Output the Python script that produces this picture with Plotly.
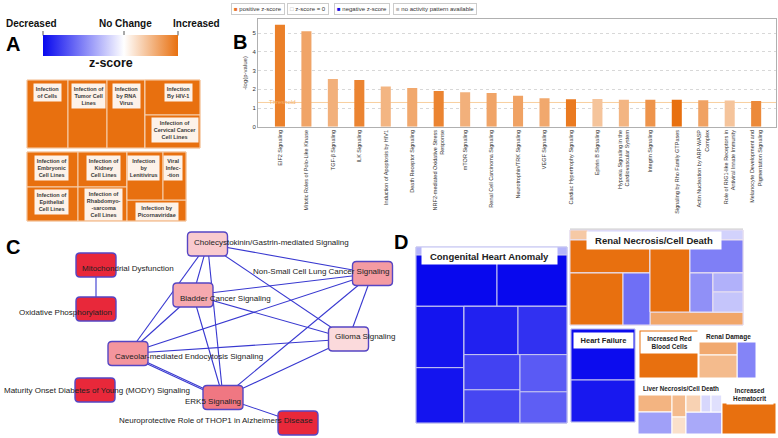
import plotly.graph_objects as go
from plotly.colors import sample_colorscale

W, H = 778, 438
def px(x): return x / W
def py(y): return 1 - y / H
FONT = "Arial, Liberation Sans, sans-serif"

# ---------------- DATA ----------------
# z-score colour range shared by panels A, B, D
z_min, z_max = -3, 2

# Panel B: canonical pathways
pathways = ["EIF2 Signaling", "Mitotic Roles of Polo-Like Kinase", "TGF-β Signaling", "ILK Signaling",
            "Induction of Apoptosis by HIV1", "Death Receptor Signaling",
            "NRF2-mediated Oxidative Stress<br>Response", "mTOR Signaling",
            "Renal Cell Carcinoma Signaling", "Neurotrophin/TRK Signaling", "VEGF Signaling",
            "Cardiac Hypertrophy Signaling", "Ephrin B Signaling",
            "Hypoxia Signaling in the<br>Cardiovascular System", "Integrin Signaling",
            "Signaling by Rho Family GTPases", "Actin Nucleation by ARP-WASP<br>Complex",
            "Role of RIG1-like Receptors in<br>Antiviral Innate Immunity",
            "Melanocyte Development and<br>Pigmentation Signaling"]
neg_log_p = [5.45, 5.1, 2.56, 2.5, 2.15, 2.07, 1.91, 1.84, 1.81, 1.66, 1.52, 1.47, 1.48,
             1.45, 1.44, 1.44, 1.42, 1.40, 1.38]
pathway_z = [1.78, 1.27, 1.1, 1.72, 1.04, 1.22, 1.72, 1.1, 1.27, 1.3, 1.22, 1.86, 0.83,
             1.04, 1.5, 2.0, 1.3, 0.83, 1.64]
threshold = 1.3
b_yticks = [0, 1, 2, 3, 4, 5]

# Panel A treemaps (functions)
a_up_ids = ["root", "Infection of Cells", "Infection of Tumor Cell Lines", "Infection by RNA Virus",
            "hiv", "Infection By HIV-1", "Infection of Cervical Cancer Cell Lines"]
a_up_parents = ["", "root", "root", "root", "root", "hiv", "hiv"]
a_up_values = [0, 2788, 2652, 2584, 0, 1925, 1815]
a_up_z = [2, 2, 2, 2, 2, 2, 2]

a_lo_ids = ["root", "c1", "Infection of Embryonic Cell Lines", "Infection of Epithelial Cell Lines",
            "c2", "Infection of Kidney Cell Lines", "Infection of Rhabdomyosarcoma Cell Lines",
            "c3", "sub", "Infection by Lenitivirus", "Viral Infection", "Infection by Picornaviridae"]
a_lo_parents = ["", "root", "c1", "c1", "root", "c2", "c2", "root", "c3", "sub", "sub", "c3"]
a_lo_values = [0, 0, 1785, 1734, 0, 1715, 1666, 0, 0, 1728, 1104, 1239]
a_lo_z = [2] * 12

# Panel D treemaps (diseases & functions)
cha_ids = ["root", "h", "r1", "r1a", "r1b", "r23", "colA", "a1", "a2", "right", "top", "bt", "ct",
           "bot", "colB", "b1", "b2", "colC", "c1", "c2"]
cha_parents = ["", "root", "root", "r1", "r1", "root", "r23", "colA", "colA", "r23", "right", "top",
               "top", "right", "bot", "colB", "colB", "bot", "colC", "colC"]
cha_values = [0, 1208, 0, 4131, 3570, 0, 0, 2928, 2640, 0, 0, 2592, 2352, 0, 0, 1960, 1848, 0, 1739, 1457]
cha_z = [-3, -0.9, -3, -3, -3, -3, -3, -2.85, -2.85, -3, -3, -2.7, -2.5, -3, -3, -2.3, -2.25, -3, -2.0, -1.95]

rn_ids = ["root", "hdr", "hp", "hl", "body", "L", "Ltop", "Lbot", "Lbo", "Lbb", "R", "Ru", "Rmid",
          "Rc", "Rct", "Rcb", "Rcb1", "Rcb2", "x1", "x2", "Rs"]
rn_parents = ["", "root", "hdr", "hdr", "root", "body", "L", "L", "Lbot", "Lbot", "body", "R", "Ru",
              "Ru", "Rc", "Rc", "Rcb", "Rcb", "Rcb2", "Rcb2", "R"]
rn_values = [0, 0, 180, 1550, 0, 0, 2640, 0, 2756, 1404, 0, 0, 2880, 0, 1749, 0, 897, 0, 570, 600, 1209]
rn_z = [2, 0, 0.75, -0.55, 2, 2, 2, 2, 2, -1.75, 2, 2, 2, -1.5, -1.55, -1.3, -1.35, -1, -0.95, -0.7, 1.25]

hf_ids = ["root", "hf1", "hf2"]
hf_parents = ["", "root", "root"]
hf_values = [0, 3264, 2688]
hf_z = [-3, -2.95, -2.8]

rbc_ids = ["root", "cell"]
rbc_parents = ["", "root"]
rbc_values = [0, 2832]
rbc_z = [2, 2]

rd_ids = ["root", "hdr", "body", "lc", "c1", "c2", "bl"]
rd_parents = ["", "root", "root", "body", "lc", "lc", "body"]
rd_values = [0, 684, 0, 0, 494, 874, 684]
rd_z = [0, 0, 0, 1, 1.2, 0.95, -1.5]

lv_ids = ["root", "hdr", "body", "col1", "a", "b", "col2", "c", "d", "col3", "top3", "f", "g", "h", "e"]
lv_parents = ["", "root", "root", "body", "col1", "col1", "body", "col2", "col2", "body", "col3",
              "top3", "top3", "top3", "col3"]
lv_values = [0, 1176, 0, 0, 578, 748, 0, 308, 238, 0, 0, 255, 170, 187, 792]
lv_z = [0, 0, 0, 0, 1.05, -1.15, 0, 0.95, 0.43, 0, 0, 0.63, -0.48, -0.38, -1.05]

hc_ids = ["root", "hdr", "cell"]
hc_parents = ["", "root", "root"]
hc_values = [0, 1188, 1674]
hc_z = [0, 0, 2]

# Panel C: overlapping pathway network
net_nodes = ["Mitochondrial Dysfunction", "Oxidative Phosphorylation",
             "Cholecystokinin/Gastrin-mediated Signaling", "Bladder Cancer Signaling",
             "Non-Small Cell Lung Cancer Signaling", "Glioma Signaling",
             "Caveolar-mediated Endocytosis Signaling",
             "Maturity Onset Diabetes of Young (MODY) Signaling", "ERK5 Signaling",
             "Neuroprotective Role of THOP1 in Alzheimers Disease"]
node_x = [96, 96, 207.5, 193, 372.5, 348.5, 128, 95, 223, 298]
node_y = [265, 309, 244, 295, 273.5, 339, 353.5, 390, 397.5, 423]
node_score = [1.0, 1.0, 0.18, 0.35, 0.42, 0.1, 0.45, 1.0, 0.6, 1.0]
net_edges = [(0, 1), (2, 3), (2, 4), (2, 5), (2, 6), (2, 8), (3, 4), (3, 5), (3, 6), (3, 8),
             (4, 6), (4, 5), (4, 8), (5, 6), (5, 8), (6, 8), (6, 8), (8, 9)]

# ---------------- FIGURE ----------------
CS = [[0, "#0808ee"], [0.6, "#ffffff"], [1, "#e8700f"]]
fig = go.Figure()


def treemap(ids, parents, values, z, box, packing, line="#ffffff"):
    x0, y0, x1, y1 = box
    fig.add_trace(go.Treemap(
        ids=ids, labels=ids, parents=parents, values=values, branchvalues="remainder", sort=False,
        marker=dict(colors=z, coloraxis="coloraxis", line=dict(width=1, color=line),
                    pad=dict(t=0, l=0, r=0, b=0)),
        tiling=dict(packing=packing, pad=0), pathbar=dict(visible=False),
        textinfo="none", hoverinfo="skip",
        domain=dict(x=[px(x0), px(x1)], y=[py(y1), py(y0)])))


treemap(a_up_ids, a_up_parents, a_up_values, a_up_z, (27, 80, 200, 148), "slice-dice", "#f6d0b0")
treemap(a_lo_ids, a_lo_parents, a_lo_values, a_lo_z, (27, 152, 186, 221), "slice-dice", "#f6d0b0")
treemap(cha_ids, cha_parents, cha_values, cha_z, (416, 247, 567, 423), "dice-slice", "#c8c8f0")
treemap(rn_ids, rn_parents, rn_values, rn_z, (570, 230, 743, 325), "dice-slice", "#e8e0f0")
treemap(hf_ids, hf_parents, hf_values, hf_z, (571, 329, 635, 422), "dice-slice", "#c8c8f0")
treemap(rbc_ids, rbc_parents, rbc_values, rbc_z, (639, 330, 698, 378), "dice-slice")
treemap(rd_ids, rd_parents, rd_values, rd_z, (699, 330, 756, 378), "dice-slice")
treemap(lv_ids, lv_parents, lv_values, lv_z, (638, 381, 722, 434), "dice-slice")
treemap(hc_ids, hc_parents, hc_values, hc_z, (722, 381, 776, 434), "dice-slice")

# Panel B bars
fig.add_trace(go.Bar(x=pathways, y=neg_log_p, width=0.38,
                     marker=dict(color=pathway_z, coloraxis="coloraxis", line=dict(width=0)),
                     hoverinfo="skip", xaxis="x", yaxis="y"))

# Panel C edges
ex, ey = [], []
seen = {}
for a, b in net_edges:
    k = seen.get((a, b), 0)
    seen[(a, b)] = k + 1
    off = 0 if k == 0 else 1.6
    ex += [node_x[a], node_x[b], None]
    ey += [node_y[a] + off, node_y[b] + off, None]
fig.add_trace(go.Scatter(x=ex, y=ey, mode="lines", line=dict(color="#3838d0", width=1.1),
                         hoverinfo="skip", xaxis="x2", yaxis="y2"))

node_colors = sample_colorscale([[0, "#fdeeee"], [1, "#e8283a"]], node_score)
shapes = []
for cx, cy, col in zip(node_x, node_y, node_colors):
    w, h, r = 40, 24, 4
    x0, x1, y0, y1 = cx - w / 2, cx + w / 2, cy - h / 2, cy + h / 2
    path = (f"M{x0+r},{y0} L{x1-r},{y0} Q{x1},{y0} {x1},{y0+r} L{x1},{y1-r} Q{x1},{y1} {x1-r},{y1} "
            f"L{x0+r},{y1} Q{x0},{y1} {x0},{y1-r} L{x0},{y0+r} Q{x0},{y0} {x0+r},{y0} Z")
    shapes.append(dict(type="path", path=path, xref="x2", yref="y2", fillcolor=col,
                       line=dict(color="#5646c4", width=1.4), layer="above"))

annotations = []
# network labels (left x, centre y)
lab_x = [80, 17, 192, 178, 251, 333, 113, 2, 183, 117]
lab_y = [268, 312, 242, 298, 271, 336, 356, 390, 401, 420]
for t, lx, ly in zip(net_nodes, lab_x, lab_y):
    annotations.append(dict(text=t, x=lx, y=ly, xref="x2", yref="y2", xanchor="left",
                            yanchor="middle", showarrow=False,
                            font=dict(size=8, color="#222", family=FONT)))

def ann(text, x, y, size, bold=False, color="#111", xanchor="center", yanchor="middle", **kw):
    annotations.append(dict(text=f"<b>{text}</b>" if bold else text, x=px(x), y=py(y),
                            xref="paper", yref="paper", xanchor=xanchor, yanchor=yanchor,
                            showarrow=False, font=dict(size=size, color=color, family=FONT), **kw))

# panel letters
for L, x, y in [("A", 13, 44), ("B", 240, 42), ("C", 13, 247), ("D", 401, 242)]:
    ann(L, x, y, 20, bold=True, color="#000")

# panel A colour legend
ann("Decreased", 31.5, 23, 10, bold=True)
ann("No Change", 126, 23, 10, bold=True)
ann("Increased", 196, 23, 10, bold=True)
ann("z-score", 111, 63, 12.5, bold=True)
for tx in (43, 124, 178):
    shapes.append(dict(type="line", xref="paper", yref="paper", x0=px(tx), x1=px(tx),
                       y0=py(31), y1=py(35.5), line=dict(color="#555", width=1)))

# panel A cell labels
a_labels = [("Infection<br>of Cells", 47.5, 83), ("Infection of<br>Tumor Cell<br>Lines", 88, 83),
            ("Infection<br>by RNA<br>Virus", 126.5, 83), ("Infection<br>By HIV-1", 178, 83),
            ("Infection of<br>Cervical Cancer<br>Cell Lines", 175, 117),
            ("Infection of<br>Embryonic<br>Cell Lines", 51.5, 155),
            ("Infection of<br>Kidney<br>Cell Lines", 103.5, 155),
            ("Infection<br>by<br>Lenitivirus", 143, 155), ("Viral<br>Infec-<br>-tion", 173, 155),
            ("Infection of<br>Epithelial<br>Cell Lines", 52, 189),
            ("Infection of<br>Rhabdomyo-<br>-sarcoma<br>Cell Lines", 103.5, 188),
            ("Infection by<br>Picornaviridae", 157, 202)]
for t, x, y in a_labels:
    ann(t, x, y, 5.5, bold=True, color="#3a3a3a", yanchor="top", bgcolor="#fdf2e9", borderpad=1.8)

# panel B legend
leg = [("<span style='color:#e8702a'>■</span> positive z-score", 231),
       ("<span style='color:#aaa'>□</span> z-score = 0", 287),
       ("<span style='color:#1010e0'>■</span> negative z-score", 334),
       ("<span style='color:#bbb'>■</span> no activity pattern available", 393)]
for t, x in leg:
    ann(t, x, 8.5, 6, color="#333", xanchor="left", bgcolor="white", bordercolor="#ccc",
        borderwidth=1, borderpad=2)
annotations.append(dict(text="Threshold", x=-0.5, y=threshold, xref="x", yref="y", xanchor="left",
                        yanchor="middle", showarrow=False,
                        font=dict(size=6, color="#f5b26e", family=FONT)))
shapes.append(dict(type="line", xref="x domain", yref="y", x0=0, x1=1, y0=threshold, y1=threshold,
                   line=dict(color="#f8cf9f", width=1), layer="below"))
shapes.append(dict(type="line", xref="paper", yref="paper", x0=px(570), x1=px(743), y0=py(229),
                   y1=py(229), line=dict(color="#cccccc", width=1)))

# panel D labels
ann("Congenital Heart Anomaly", 489.5, 255.5, 9.5, bold=True, color="#222", bgcolor="white",
    width=133, height=14)
ann("Renal Necrosis/Cell Death", 654, 240, 9.5, bold=True, color="#222", bgcolor="white",
    width=132, height=15)
ann("Heart Failure", 603.5, 340, 7.5, bold=True, color="#222", bgcolor="white", width=57, height=13)
ann("Increased Red<br>Blood Cells", 669.5, 342, 6.5, bold=True, color="#222", bgcolor="white",
    width=55, height=19)
ann("Renal Damage", 728, 337, 6.5, bold=True, color="#222")
ann("Liver Necrosis/Cell Death", 681, 388, 6.3, bold=True, color="#222")
ann("Increased<br>Hematocrit", 750, 394, 6.3, bold=True, color="#222", bgcolor="white",
    width=44, height=17)

fig.update_layout(
    width=W, height=H, margin=dict(l=0, r=0, t=0, b=0), template="none",
    paper_bgcolor="white", plot_bgcolor="white", showlegend=False,
    font=dict(family=FONT),
    coloraxis=dict(colorscale=CS, cmin=z_min, cmax=z_max,
                   colorbar=dict(orientation="h", x=px(43), xanchor="left", y=py(35),
                                 yanchor="top", len=135, lenmode="pixels", thickness=21,
                                 xpad=0, ypad=0, outlinewidth=0, showticklabels=False,
                                 ticks="", title=dict(text=""))),
    xaxis=dict(domain=[px(258), px(776)], type="category", range=[-0.83, 18.75],
               tickangle=-90, tickfont=dict(size=5.5, color="#333"), ticks="",
               showline=True, linecolor="#b0b0b0", mirror=True, showgrid=False,
               zeroline=False, automargin=False, fixedrange=True),
    yaxis=dict(domain=[py(126.8), py(19)], range=[0, 5.76], tickvals=b_yticks,
               tickfont=dict(size=6, color="#333"), ticks="", showline=True,
               linecolor="#b0b0b0", mirror=True, showgrid=True, gridcolor="#d8d8d8",
               griddash="dot", zeroline=False, automargin=False, fixedrange=True,
               title=dict(text="-log(p-value)", font=dict(size=6, color="#333"), standoff=4)),
    xaxis2=dict(domain=[0, px(395)], range=[0, 395], visible=False, fixedrange=True),
    yaxis2=dict(domain=[0, py(225)], range=[438, 225], visible=False, fixedrange=True),
    shapes=shapes, annotations=annotations,
)

fig.write_html("out.html", config={"displayModeBar": False},
               post_script="document.body.style.margin='0';document.body.style.overflow='hidden';")
